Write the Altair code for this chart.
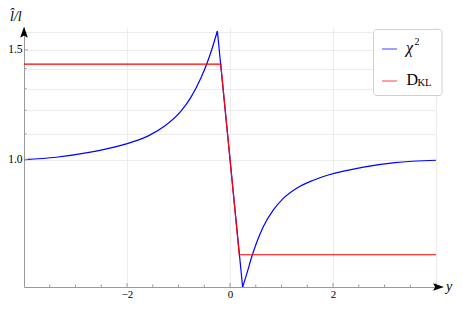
import altair as alt
import pandas as pd

# ---- data ----
# chi^2 curve: left branch, central drop, right branch
chi_left_x = [-4.0, -3.375, -2.736, -2.10, -1.906, -1.586, -1.268, -0.948, -0.757, -0.565, -0.437, -0.341, -0.245]
chi_left_y = [1.0, 1.009, 1.027, 1.055, 1.067, 1.092, 1.132, 1.197, 1.260, 1.352, 1.434, 1.513, 1.608]
chi_mid_x = [-0.245, 0.245]
chi_mid_y = [1.608, 0.625]
chi_right_x = [0.245, 0.330, 0.425, 0.521, 0.646, 0.839, 1.030, 1.287, 1.605, 1.925, 2.563, 3.203, 4.0]
chi_right_y = [0.625, 0.658, 0.700, 0.738, 0.781, 0.830, 0.866, 0.899, 0.926, 0.946, 0.972, 0.989, 0.998]

# D_KL step
dkl_x = [-4.0, -0.18, 0.18, 4.0]
dkl_y = [1.4235, 1.4235, 0.704, 0.704]

# axes
x_domain = [-4, 4]
y_domain = [0.625, 1.632]
x_grid_values = [-4, -2, 0, 2, 4]
x_labels_shown = [-2, 0, 2]
y_grid_values = [1.0, 1.1, 1.2, 1.3, 1.4, 1.5, 1.6]
x_ticks_major = [-2, 0, 2, 4]
x_ticks_minor = [-3.5, -3, -2.5, -1.5, -1, -0.5, 0.5, 1, 1.5, 2.5, 3, 3.5]
y_ticks_major = [1.0, 1.5]
y_ticks_minor = [1.1, 1.2, 1.3, 1.4, 1.6]

series_names = ["χ", "D"]
series_marks = ["2", "KL"]
y_title = "l̂/l"
x_title = "y"

BLUE = "#0000ff"
RED = "#ff0000"
SERIF = "Liberation Serif"
W, H = 412, 260

chi_df = pd.DataFrame({
    "x": chi_left_x + chi_mid_x + chi_right_x,
    "v": chi_left_y + chi_mid_y + chi_right_y,
    "seg": ["a"] * len(chi_left_x) + ["b"] * len(chi_mid_x) + ["c"] * len(chi_right_x),
})
dkl_df = pd.DataFrame({"x": dkl_x, "v": dkl_y})

xs = alt.Scale(domain=x_domain, nice=False, zero=False)
ys = alt.Scale(type="log", domain=y_domain, nice=False, zero=False)

x_axis = alt.Axis(
    values=x_grid_values,
    labelExpr="indexof([%s], datum.value) >= 0 ? datum.label : ''" % ",".join(str(v) for v in x_labels_shown),
    ticks=False, grid=True, gridColor="#ececec", gridWidth=1,
    domainColor="#9a9a9a", domainWidth=1,
    labelFont=SERIF, labelFontSize=11, labelColor="#000", labelPadding=1,
    title=None,
)
y_axis = alt.Axis(
    values=y_grid_values,
    labelExpr="(datum.value == 1 || datum.value == 1.5) ? format(datum.value, '.1f') : ''",
    ticks=False, grid=True, gridColor="#ececec", gridWidth=1,
    domainColor="#9a9a9a", domainWidth=1,
    labelFont=SERIF, labelFontSize=11.5, labelColor="#000", labelPadding=2,
    title=None,
)

X = alt.X("x:Q", scale=xs, axis=x_axis, title=None)
Y = alt.Y("v:Q", scale=ys, axis=y_axis, title=None)

chi = alt.Chart(chi_df).mark_line(color=BLUE, strokeWidth=1.2, interpolate="monotone").encode(
    x=X, y=Y, detail="seg:N",
)
dkl = alt.Chart(dkl_df).mark_line(color=RED, strokeWidth=1.2).encode(x=X, y=Y)

def xticks(vals, length):
    return alt.Chart(pd.DataFrame({"x": vals})).mark_rule(color="#9a9a9a", strokeWidth=1).encode(
        x=X, y=alt.value(H), y2=alt.value(H - length),
    )

def yticks(vals, length):
    return alt.Chart(pd.DataFrame({"v": vals})).mark_rule(color="#9a9a9a", strokeWidth=1).encode(
        y=Y, x=alt.value(0), x2=alt.value(length),
    )

one = pd.DataFrame({"k": [0]})

up_arrow = alt.Chart(one).mark_point(
    shape="M0,-1L0.7,1L0,0.6L-0.7,1Z", filled=True, color="black", opacity=1, size=121, strokeWidth=0
).encode(x=alt.value(0), y=alt.value(5.2))
right_arrow = alt.Chart(one).mark_point(
    shape="M1,0L-1,0.7L-0.6,0L-1,-0.7Z", filled=True, color="black", opacity=1, size=121, strokeWidth=0
).encode(x=alt.value(414.5), y=alt.value(H))

def label(text, x, y, size, italic=False):
    return alt.Chart(pd.DataFrame({"t": [text]})).mark_text(
        align="left", baseline="alphabetic", font=SERIF, fontSize=size,
        fontStyle="italic" if italic else "normal", color="black",
    ).encode(x=alt.value(x), y=alt.value(y), text="t:N")

ylab = label(y_title, -14, -6, 14, italic=True)
xlab = label(x_title, 422, H + 4, 14, italic=True)

legend_box = alt.Chart(one).mark_rect(
    fill="white", stroke="#cfcfcf", strokeWidth=1, cornerRadius=3
).encode(x=alt.value(349.5), x2=alt.value(418), y=alt.value(2.5), y2=alt.value(68.5))
leg_blue = alt.Chart(one).mark_rule(color=BLUE, strokeWidth=1, opacity=0.75).encode(
    x=alt.value(358), x2=alt.value(373), y=alt.value(22))
leg_red = alt.Chart(one).mark_rule(color=RED, strokeWidth=1, opacity=0.75).encode(
    x=alt.value(358), x2=alt.value(373), y=alt.value(54))
chi_txt = label(series_names[0], 382, 25.5, 16, italic=True)
chi_sup = label(series_marks[0], 390.5, 18, 10)
d_txt = label(series_names[1], 382.5, 58, 16)
kl_txt = label(series_marks[1], 393.5, 58.5, 10.5)

chart = alt.layer(
    chi, dkl,
    xticks(x_ticks_minor, 2.5), xticks(x_ticks_major, 4),
    yticks(y_ticks_minor, 2.5), yticks(y_ticks_major, 4),
    up_arrow, right_arrow, ylab, xlab,
    legend_box, leg_blue, leg_red, chi_txt, chi_sup, d_txt, kl_txt,
).properties(
    width=W, height=H,
    autosize=alt.AutoSizeParams(type="none"),
    padding={"left": 16, "top": 19, "right": 19, "bottom": 14},
    background="white",
).configure_view(stroke=None)

chart.save("out.html", embed_options={"renderer": "svg", "actions": False})
